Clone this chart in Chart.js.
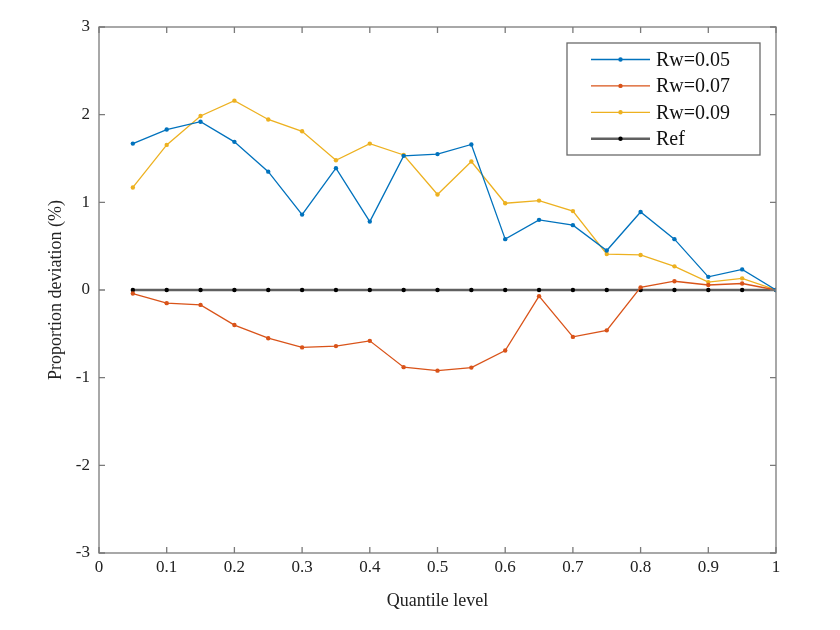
<!DOCTYPE html>
<html>
<head>
<meta charset="utf-8">
<script src="https://cdn.jsdelivr.net/npm/chart.js@4.4.0/dist/chart.umd.min.js"></script>
<style>
  html, body { margin: 0; padding: 0; background: #fff; }
  #wrap { width: 840px; height: 630px; }
</style>
</head>
<body>
<div id="wrap"><canvas id="chart" width="840" height="630"></canvas></div>
<script>
// quantile levels on the x axis
const quantiles = [0.05, 0.1, 0.15, 0.2, 0.25, 0.3, 0.35, 0.4, 0.45, 0.5,
  0.55, 0.6, 0.65, 0.7, 0.75, 0.8, 0.85, 0.9, 0.95, 1.0];

// proportion deviation (%) per series
const rw005 = [1.67, 1.83, 1.92, 1.69, 1.35, 0.86, 1.39, 0.78, 1.53, 1.55,
  1.66, 0.58, 0.80, 0.74, 0.45, 0.89, 0.58, 0.15, 0.235, 0];
const rw007 = [-0.04, -0.15, -0.17, -0.40, -0.55, -0.655, -0.64, -0.58, -0.88, -0.92,
  -0.885, -0.69, -0.07, -0.535, -0.46, 0.03, 0.10, 0.057, 0.074, 0];
const rw009 = [1.17, 1.655, 1.985, 2.16, 1.945, 1.81, 1.48, 1.67, 1.54, 1.09,
  1.465, 0.99, 1.02, 0.90, 0.41, 0.40, 0.27, 0.09, 0.133, 0];
const refLine = [0, 0, 0, 0, 0, 0, 0, 0, 0, 0, 0, 0, 0, 0, 0, 0, 0, 0, 0, 0];

const seriesLabels = ["Rw=0.05", "Rw=0.07", "Rw=0.09", "Ref"];
const xTicks = [0, 0.1, 0.2, 0.3, 0.4, 0.5, 0.6, 0.7, 0.8, 0.9, 1];
const yTicks = [-3, -2, -1, 0, 1, 2, 3];

const SERIF = "'Liberation Serif', 'Times New Roman', serif";
const AXIS_GRAY = "#7a7a7a";

function toPoints(ys) {
  return ys.map((y, i) => ({ x: quantiles[i], y: y }));
}

function makeSet(label, ys, color, pointColor, width) {
  return {
    label: label,
    data: toPoints(ys),
    borderColor: color,
    backgroundColor: pointColor,
    pointBackgroundColor: pointColor,
    pointBorderColor: pointColor,
    borderWidth: width,
    pointRadius: 2.2,
    pointBorderWidth: 0,
    pointHoverRadius: 2.2,
    tension: 0,
  };
}

// box around the plot with inward ticks, MATLAB style
const boxPlugin = {
  id: "boxPlugin",
  afterDatasetsDraw(chart) {
    const ctx = chart.ctx;
    const a = chart.chartArea;
    const xs = chart.scales.x;
    const ys = chart.scales.y;
    const tl = 6;
    ctx.save();
    ctx.strokeStyle = AXIS_GRAY;
    ctx.lineWidth = 1.3;
    ctx.strokeRect(a.left, a.top, a.right - a.left, a.bottom - a.top);
    ctx.beginPath();
    xTicks.forEach(v => {
      const px = xs.getPixelForValue(v);
      ctx.moveTo(px, a.bottom); ctx.lineTo(px, a.bottom - tl);
      ctx.moveTo(px, a.top); ctx.lineTo(px, a.top + tl);
    });
    yTicks.forEach(v => {
      const py = ys.getPixelForValue(v);
      ctx.moveTo(a.left, py); ctx.lineTo(a.left + tl, py);
      ctx.moveTo(a.right, py); ctx.lineTo(a.right - tl, py);
    });
    ctx.stroke();
    ctx.restore();
  },
  afterDraw(chart) {
    // legend box in the upper right corner
    const ctx = chart.ctx;
    const a = chart.chartArea;
    const bx = a.right - 209, by = a.top + 16, bw = 193, bh = 112;
    ctx.save();
    ctx.fillStyle = "#fff";
    ctx.fillRect(bx, by, bw, bh);
    ctx.strokeStyle = "#6a6a6a";
    ctx.lineWidth = 1.3;
    ctx.strokeRect(bx, by, bw, bh);
    ctx.font = "20px " + SERIF;
    ctx.textBaseline = "middle";
    chart.data.datasets.forEach((ds, i) => {
      const y = by + 16.5 + i * 26.4;
      ctx.strokeStyle = ds.borderColor;
      ctx.lineWidth = ds.borderWidth;
      ctx.beginPath();
      ctx.moveTo(bx + 24, y);
      ctx.lineTo(bx + 83, y);
      ctx.stroke();
      ctx.fillStyle = ds.pointBackgroundColor;
      ctx.beginPath();
      ctx.arc(bx + 53.5, y, 2.2, 0, Math.PI * 2);
      ctx.fill();
      ctx.fillStyle = "#111";
      ctx.fillText(ds.label, bx + 89, y + 1);
    });
    ctx.restore();
  },
};

const ctx = document.getElementById("chart").getContext("2d");
new Chart(ctx, {
  type: "line",
  data: {
    datasets: [
      makeSet(seriesLabels[0], rw005, "#0072BD", "#0072BD", 1.3),
      makeSet(seriesLabels[1], rw007, "#D95319", "#D95319", 1.3),
      makeSet(seriesLabels[2], rw009, "#EDB120", "#EDB120", 1.3),
      makeSet(seriesLabels[3], refLine, "#606060", "#000000", 2.6),
    ],
  },
  options: {
    responsive: false,
    animation: false,
    events: [],
    layout: { padding: { top: 27, right: 64, left: 0, bottom: 0 } },
    plugins: {
      legend: { display: false },
      tooltip: { enabled: false },
    },
    scales: {
      x: {
        type: "linear",
        min: 0,
        max: 1,
        afterBuildTicks(scale) {
          scale.ticks = xTicks.map(v => ({ value: v }));
        },
        afterFit(scale) { scale.height = 77; },
        grid: { display: false, drawTicks: false },
        border: { display: false },
        ticks: {
          padding: 4,
          color: "#222",
          font: { family: SERIF, size: 17 },
          maxRotation: 0,
          callback: v => (v === 0 || v === 1) ? String(v) : v.toFixed(1),
        },
        title: {
          display: true,
          text: "Quantile level",
          color: "#222",
          font: { family: SERIF, size: 18 },
          padding: { top: 18, bottom: 18 },
        },
      },
      y: {
        min: -3,
        max: 3,
        afterBuildTicks(scale) {
          scale.ticks = yTicks.map(v => ({ value: v }));
        },
        afterFit(scale) { scale.width = 99; },
        grid: { display: false, drawTicks: false },
        border: { display: false },
        ticks: {
          padding: 9,
          color: "#222",
          font: { family: SERIF, size: 17 },
        },
        title: {
          display: true,
          text: "Proportion deviation (%)",
          color: "#222",
          font: { family: SERIF, size: 18 },
          padding: { top: 45, bottom: 45 },
        },
      },
    },
  },
  plugins: [boxPlugin],
});
</script>
</body>
</html>
